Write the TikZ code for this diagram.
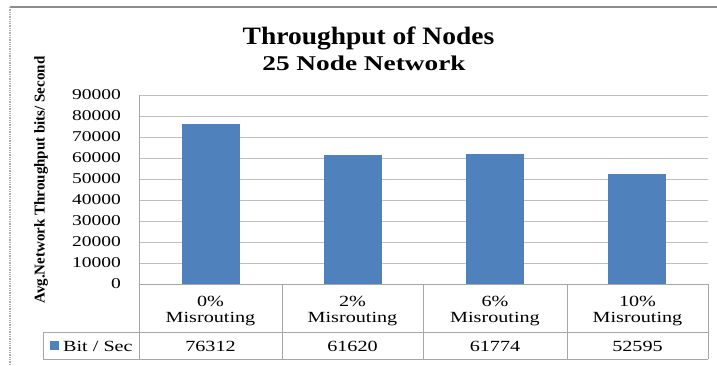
\documentclass[tikz,border=0pt]{standalone}
\usepackage{fontspec}
\setmainfont{Liberation Serif}
\newfontfamily\tickfont{Liberation Serif}[FakeStretch=1.3]
\newfontfamily\widefont{Liberation Serif}[FakeStretch=1.3]
\newfontfamily\titlefont{Liberation Serif}[FakeStretch=1.1]
\newfontfamily\subtitlefont{Liberation Serif}[FakeStretch=1.3]
\definecolor{barblue}{HTML}{4F81BD}
\definecolor{gridgray}{HTML}{BFBFBF}
\definecolor{tablegray}{HTML}{A6A6A6}
\definecolor{framegray}{HTML}{8C8C8C}
\tikzset{
  gridline/.style={draw=gridgray, line width=0.9pt},
  tableline/.style={draw=tablegray, line width=0.9pt},
  bar/.style={fill=barblue},
  ticklabel/.style={anchor=east, inner sep=0pt, font=\tickfont\fontsize{15}{16}\selectfont},
  celltext/.style={inner sep=0pt, font=\widefont\fontsize{15.5}{16}\selectfont},
}
\begin{document}
\begin{tikzpicture}[x=1pt, y=-1pt]
\useasboundingbox (0,0) rectangle (717,365);
\fill[white] (0,0) rectangle (717,365);
% outer frame of the chart
\draw[framegray, line width=1.3pt] (10,7) -- (717,7);
\draw[framegray!70, line width=1.3pt, densely dotted] (10,7) -- (10,365);
% titles
\node[anchor=base, inner sep=0pt, font=\titlefont\bfseries\fontsize{25}{27}\selectfont] (title) at (368.5,44) {Throughput of Nodes};
\node[anchor=base, inner sep=0pt, font=\subtitlefont\bfseries\fontsize{21}{23}\selectfont] (subtitle) at (364,70) {25 Node Network};
% vertical axis title
\node[rotate=90, inner sep=0pt, font=\bfseries\fontsize{15}{16}\selectfont] (ylabel) at (41,180) {Avg.Network Throughput bits/ Second};
% horizontal grid lines and tick labels (21 px per 10000)
\foreach \k in {1,...,9} {
  \draw[gridline] (139,{284-21*\k}) -- (708,{284-21*\k});
}
\foreach \k/\v in {0/0,1/10000,2/20000,3/30000,4/40000,5/50000,6/60000,7/70000,8/80000,9/90000} {
  \node[ticklabel] (tick\k) at (121,{283.5-21*\k}) {\v};
}
% bars, heights given in units of 10000
\foreach \c/\h in {210.5/7.6312, 352.5/6.1620, 494.8/6.1774, 637/5.2595} {
  \fill[bar] ({\c-29},284) rectangle ({\c+29},{284-21*\h});
}
% data table
\draw[tableline] (139,95) -- (139,359);
\draw[tableline] (139,284) -- (708,284);
\draw[tableline] (43,332) -- (708,332);
\draw[tableline] (43,359) -- (708,359);
\draw[tableline] (43,332) -- (43,359);
\foreach \x in {282,423.5,567,708} {
  \draw[tableline] (\x,284) -- (\x,359);
}
% legend cell
\fill[barblue] (50,341) rectangle (59,350);
\node[celltext, anchor=west] (legend) at (63,346) {Bit / Sec};
% category headers and values
\foreach \i/\c/\p/\v in {1/210.5/0\%/76312, 2/352.5/2\%/61620, 3/495/6\%/61774, 4/637.5/10\%/52595} {
  \node[celltext] (pct\i) at (\c,301) {\p};
  \node[celltext, anchor=base] (mis\i) at (\c,322.5) {Misrouting};
  \node[celltext] (val\i) at (\c,346.5) {\v};
}
\end{tikzpicture}
\end{document}
